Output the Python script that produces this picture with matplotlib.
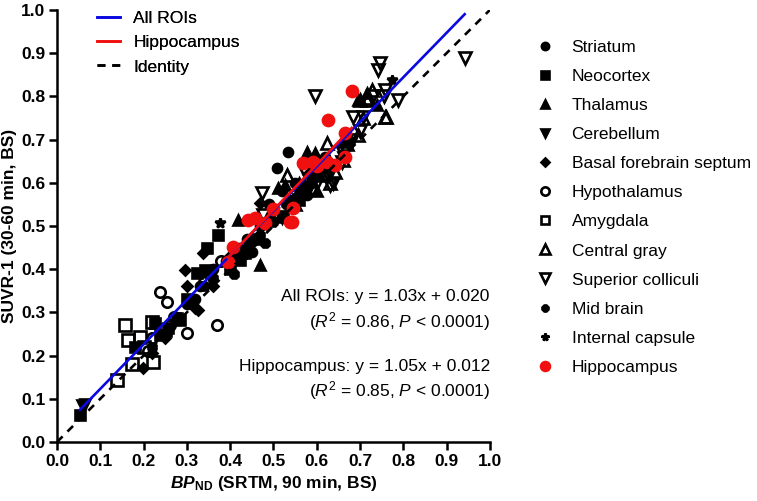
import numpy as np
import matplotlib
matplotlib.use('Agg')
import matplotlib.pyplot as plt

plt.rcParams['font.family'] = ['Liberation Sans', 'DejaVu Sans']
plt.rcParams['mathtext.fontset'] = 'custom'
plt.rcParams['mathtext.rm'] = 'Liberation Sans'
plt.rcParams['mathtext.it'] = 'Liberation Sans:italic'
plt.rcParams['mathtext.bf'] = 'Liberation Sans:bold'
plt.rcParams['mathtext.bfit'] = 'Liberation Sans:bold:italic'

# BP_ND (x) vs SUVR-1 (y) per region
striatum_x = [0.533, 0.508, 0.577, 0.52, 0.55, 0.60, 0.47, 0.44, 0.42, 0.39, 0.36, 0.33, 0.32, 0.54, 0.49, 0.62, 0.45, 0.30]
striatum_y = [0.671, 0.634, 0.572, 0.58, 0.60, 0.62, 0.50, 0.47, 0.45, 0.42, 0.40, 0.36, 0.33, 0.56, 0.55, 0.66, 0.44, 0.32]
neocortex_x = [0.372, 0.346, 0.342, 0.323, 0.277, 0.256, 0.226, 0.18, 0.238, 0.053, 0.284, 0.434, 0.423, 0.522, 0.30, 0.40, 0.46, 0.56]
neocortex_y = [0.479, 0.449, 0.398, 0.391, 0.287, 0.264, 0.275, 0.22, 0.248, 0.063, 0.282, 0.437, 0.421, 0.521, 0.33, 0.40, 0.47, 0.56]
thalamus_x = [0.418, 0.51, 0.469, 0.577, 0.596, 0.695, 0.716, 0.527, 0.62, 0.56, 0.49, 0.66, 0.74, 0.60, 0.54]
thalamus_y = [0.514, 0.588, 0.41, 0.671, 0.669, 0.792, 0.808, 0.595, 0.64, 0.60, 0.52, 0.70, 0.78, 0.58, 0.55]
cerebellum_x = [0.058, 0.065, 0.63, 0.58, 0.50, 0.44, 0.66]
cerebellum_y = [0.086, 0.088, 0.62, 0.58, 0.53, 0.44, 0.66]
basal_x = [0.296, 0.337, 0.326, 0.199, 0.219, 0.469, 0.319, 0.30, 0.40, 0.25, 0.36, 0.45, 0.52, 0.58, 0.62]
basal_y = [0.398, 0.437, 0.306, 0.171, 0.206, 0.553, 0.31, 0.36, 0.43, 0.24, 0.36, 0.46, 0.52, 0.62, 0.64]
hypoth_x = [0.238, 0.254, 0.30, 0.37, 0.21, 0.27, 0.34, 0.38, 0.22, 0.26]
hypoth_y = [0.347, 0.324, 0.252, 0.271, 0.21, 0.29, 0.37, 0.42, 0.24, 0.27]
amyg_x = [0.157, 0.164, 0.192, 0.219, 0.222, 0.173, 0.139, 0.20, 0.25]
amyg_y = [0.271, 0.236, 0.243, 0.278, 0.185, 0.18, 0.143, 0.22, 0.26]
cgray_x = [0.757, 0.727, 0.70, 0.716, 0.707, 0.76, 0.695, 0.624, 0.531, 0.642, 0.612, 0.63, 0.66, 0.718, 0.568, 0.55, 0.60, 0.67]
cgray_y = [0.752, 0.815, 0.792, 0.792, 0.75, 0.752, 0.711, 0.692, 0.618, 0.625, 0.618, 0.60, 0.653, 0.796, 0.59, 0.55, 0.62, 0.69]
supcol_x = [0.942, 0.746, 0.741, 0.757, 0.788, 0.755, 0.684, 0.707, 0.596, 0.73, 0.681, 0.658, 0.63, 0.637, 0.573, 0.473, 0.476, 0.52, 0.56, 0.60, 0.66, 0.70]
supcol_y = [0.89, 0.877, 0.862, 0.815, 0.792, 0.80, 0.752, 0.752, 0.80, 0.80, 0.699, 0.648, 0.595, 0.60, 0.625, 0.576, 0.525, 0.52, 0.56, 0.60, 0.67, 0.72]
midbrain_x = [0.22, 0.25, 0.28, 0.31, 0.34, 0.36, 0.40, 0.42, 0.44, 0.47, 0.50, 0.53, 0.56, 0.59, 0.48, 0.41]
midbrain_y = [0.22, 0.25, 0.29, 0.33, 0.36, 0.38, 0.41, 0.43, 0.45, 0.48, 0.51, 0.55, 0.58, 0.60, 0.46, 0.39]
capsule_x = [0.376, 0.774, 0.55, 0.48, 0.58, 0.62, 0.43, 0.68]
capsule_y = [0.507, 0.838, 0.56, 0.50, 0.60, 0.63, 0.44, 0.70]
hippo_x = [0.681, 0.626, 0.665, 0.568, 0.591, 0.624, 0.642, 0.665, 0.545, 0.543, 0.441, 0.457, 0.48, 0.538, 0.406, 0.395, 0.60, 0.50]
hippo_y = [0.813, 0.745, 0.715, 0.646, 0.648, 0.648, 0.641, 0.66, 0.542, 0.509, 0.514, 0.519, 0.507, 0.509, 0.451, 0.417, 0.64, 0.54]

# regression results
all_slope, all_icpt = 1.03, 0.020
hip_slope, hip_icpt = 1.05, 0.012

ticks = np.arange(0, 1.01, 0.1)
fs = 12.5

fig = plt.figure(figsize=(7.57, 5.01), dpi=100)
ax = fig.add_axes([0.0753, 0.1178, 0.5717, 0.8622])

groups = [
    ('Striatum', striatum_x, striatum_y, 'o', 6.5, 'k', 'k'),
    ('Neocortex', neocortex_x, neocortex_y, 's', 7, 'k', 'k'),
    ('Thalamus', thalamus_x, thalamus_y, '^', 7.5, 'k', 'k'),
    ('Cerebellum', cerebellum_x, cerebellum_y, 'v', 7.5, 'k', 'k'),
    ('Basal forebrain septum', basal_x, basal_y, 'D', 5, 'k', 'k'),
    ('Hypothalamus', hypoth_x, hypoth_y, 'o', 7.5, 'none', 'k'),
    ('Amygdala', amyg_x, amyg_y, 's', 8, 'none', 'k'),
    ('Central gray', cgray_x, cgray_y, '^', 9, 'none', 'k'),
    ('Superior colliculi', supcol_x, supcol_y, 'v', 9, 'none', 'k'),
    ('Mid brain', midbrain_x, midbrain_y, '8', 6.5, 'k', 'k'),
    ('Internal capsule', capsule_x, capsule_y, '*', 7, 'k', 'k'),
    ('Hippocampus', hippo_x, hippo_y, 'o', 8, '#f01010', '#f01010'),
]

handles = []
for name, gx, gy, mk, ms, fc, ec in groups:
    h, = ax.plot(gx, gy, linestyle='none', marker=mk, markersize=ms,
                 markerfacecolor=fc, markeredgecolor=ec, markeredgewidth=1.9,
                 label=name, zorder=2)
    handles.append(h)

# fit lines over the data range
all_x = np.concatenate([g[1] for g in groups])
xa = np.array([all_x.min(), all_x.max()])
xh = np.array([min(hippo_x), max(hippo_x)])
l_id, = ax.plot([0, 1], [0, 1], 'k--', lw=1.9, dashes=(3, 2.6), zorder=3)
l_all, = ax.plot(xa, all_slope * xa + all_icpt, color='#0a0ae0', lw=1.9, zorder=4)
l_hip, = ax.plot(xh, hip_slope * xh + hip_icpt, color='#f01010', lw=1.9, zorder=5)

ax.set_xlim(0, 1)
ax.set_ylim(0, 1)
ax.set_xticks(ticks)
ax.set_yticks(ticks)
ax.set_xticklabels(['%.1f' % t for t in ticks], fontweight='bold', fontsize=fs)
ax.set_yticklabels(['%.1f' % t for t in ticks], fontweight='bold', fontsize=fs)
ax.tick_params(direction='out', length=5.5, width=1.8, pad=3)
for s in ['top', 'right']:
    ax.spines[s].set_visible(False)
for s in ['left', 'bottom']:
    ax.spines[s].set_linewidth(1.8)
ax.set_xlabel(r'$\mathbfit{BP}_{\mathbf{ND}}$ (SRTM, 90 min, BS)', fontweight='bold', fontsize=fs, labelpad=4)
ax.set_ylabel('SUVR-1 (30-60 min, BS)', fontweight='bold', fontsize=fs, labelpad=3)

ax.text(1.0, 0.336, 'All ROIs: y = 1.03x + 0.020', ha='right', va='center', fontsize=fs)
ax.text(1.0, 0.278, r'($\mathit{R}^2$ = 0.86, $\mathit{P}$ < 0.0001)', ha='right', va='center', fontsize=fs)
ax.text(1.0, 0.174, 'Hippocampus: y = 1.05x + 0.012', ha='right', va='center', fontsize=fs)
ax.text(1.0, 0.120, r'($\mathit{R}^2$ = 0.85, $\mathit{P}$ < 0.0001)', ha='right', va='center', fontsize=fs)

leg1 = ax.legend([l_all, l_hip, l_id], ['All ROIs', 'Hippocampus', 'Identity'],
                 loc='upper left', bbox_to_anchor=(0.128, 0.978), bbox_transform=fig.transFigure,
                 frameon=False, fontsize=fs, handlelength=1.35, handletextpad=0.75,
                 labelspacing=0.52, borderpad=0, borderaxespad=0)
ax.add_artist(leg1)

fig.legend(handles=handles, loc='upper left', bbox_to_anchor=(0.708, 0.92),
           frameon=False, fontsize=fs, handlelength=1.0, handletextpad=1.05,
           labelspacing=0.8, borderpad=0, borderaxespad=0, numpoints=1,
           markerscale=0.8)

fig.savefig('out.png', dpi=100)
